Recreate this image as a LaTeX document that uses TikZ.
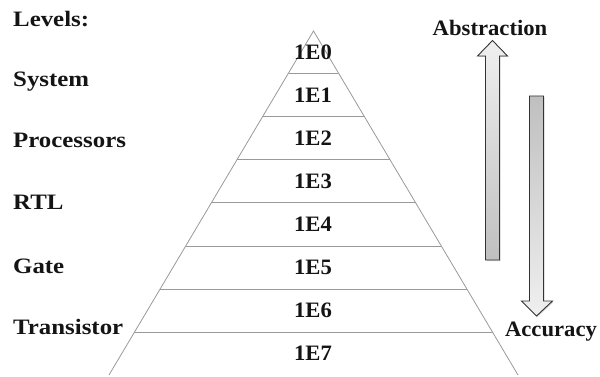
\documentclass[tikz,border=0pt]{standalone}
\usepackage{fontspec}
\setmainfont{Liberation Serif}[FakeStretch=1.03]
\newfontfamily\levelfont{Liberation Serif}[FakeStretch=1.13]
\usetikzlibrary{shadows}
\begin{document}
\begin{tikzpicture}[x=1pt,y=-1pt,
  every node/.style={inner sep=0pt,font=\fontsize{22}{26}\selectfont\bfseries,text=black!92},
  level/.style={anchor=base west,font=\levelfont\fontsize{22}{26}\selectfont\bfseries},
  tier/.style={anchor=center},
  edge/.style={draw=gray!80,line width=0.8pt},
  bigarrow/.style={draw=black!80,line width=0.9pt,line join=miter,
    drop shadow={shadow xshift=1pt,shadow yshift=-1pt,opacity=0.35}}]
\useasboundingbox (0,0) rectangle (600,377);

% pyramid outline
\coordinate (apex) at (313.5,31);
\coordinate (bl) at (109,375);
\coordinate (br) at (518,375);
\draw[edge] (bl) -- (apex) -- (br);

% tier separators
\foreach \y/\n in {73/a,116/b,159/c,202/d,246/e,289/f,332/g}{
  \pgfmathsetmacro{\hw}{(\y-31)*0.595}
  \coordinate (l\n) at ({313.5-\hw},\y);
  \coordinate (r\n) at ({313.5+\hw},\y);
  \draw[edge] (l\n) -- (r\n);
}

% tier labels
\foreach \y/\t in {52/0,95/1,138/2,181/3,224/4,267/5,310/6,353/7}{
  \node[tier] (t\t) at (313,\y) {1E\t};
}

% level names
\node[level] (lv)  at (13,27)  {Levels:};
\node[level] (sys) at (13,87)  {System};
\node[level] (pro) at (13,148) {Processors};
\node[level] (rtl) at (13,210) {RTL};
\node[level] (gat) at (13,273) {Gate};
\node[level] (tra) at (13,334) {Transistor};

% abstraction arrow (up)
\node (abs) at (490,28) {Abstraction};
\path[bigarrow,top color=gray!12,bottom color=gray!50]
  (485.5,260) -- (485.5,56) -- (477.5,56) -- (492.5,40.5) -- (507.5,56)
  -- (499.5,56) -- (499.5,260) -- cycle;

% accuracy arrow (down)
\node (acc) at (551,332) {Accuracy};
\path[bigarrow,top color=gray!50,bottom color=gray!12]
  (529.5,96) -- (543.5,96) -- (543.5,301) -- (552.5,301) -- (536.5,316)
  -- (521.5,301) -- (529.5,301) -- cycle;
\end{tikzpicture}
\end{document}
